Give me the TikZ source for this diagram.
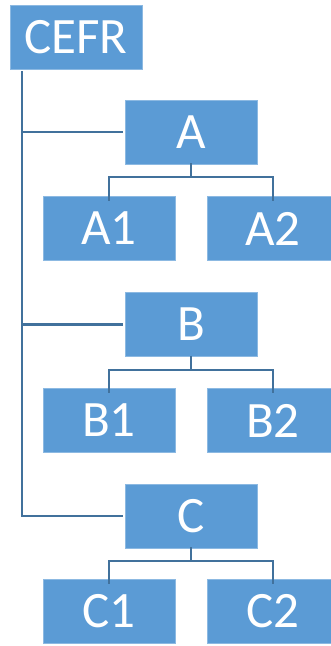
\documentclass[tikz,border=0pt]{standalone}
\usepackage{fontspec}
\setmainfont{Carlito}
\definecolor{boxblue}{HTML}{5B9BD5}
\definecolor{lineblue}{HTML}{41719C}
\begin{document}
\begin{tikzpicture}[x=1pt,y=-1pt,
  box/.style={fill=boxblue,draw=boxblue!70!white,line width=0.6pt,minimum width=132pt,minimum height=64pt,inner sep=0pt,text=white,font=\fontsize{51}{60}\selectfont},
  link/.style={draw=lineblue,line width=2.2pt}]
\useasboundingbox (0,0) rectangle (330,646);
\node[box] (cefr) at (76,37.5) {CEFR};
\node[box] (A) at (191,132) {A};
\node[box] (A1) at (109,228.5) {A1};
\node[box] (A2) at (273,228.5) {A2};
\node[box] (B) at (191,324.5) {B};
\node[box] (B1) at (109,420.5) {B1};
\node[box] (B2) at (273,420.5) {B2};
\node[box] (C) at (191,516) {C};
\node[box] (C1) at (109,611.5) {C1};
\node[box] (C2) at (273,611.5) {C2};
\coordinate (top) at (22,71);
\draw[link] (top) |- ([xshift=-2pt]C.west);
\draw[link] (22,0|-A.west) -- ([xshift=-2pt]A.west);
\draw[link] (22,0|-B.west) -- ([xshift=-2pt]B.west);
\foreach \p in {A,B,C}{
  \draw[link,line width=1.8pt] ([yshift=1pt]\p.south) -- ++(0,14) -| ([yshift=-5pt]\p1.north);
  \draw[link,line width=1.8pt] ([yshift=1pt]\p.south) -- ++(0,14) -| ([yshift=-5pt]\p2.north);
}
\end{tikzpicture}
\end{document}
